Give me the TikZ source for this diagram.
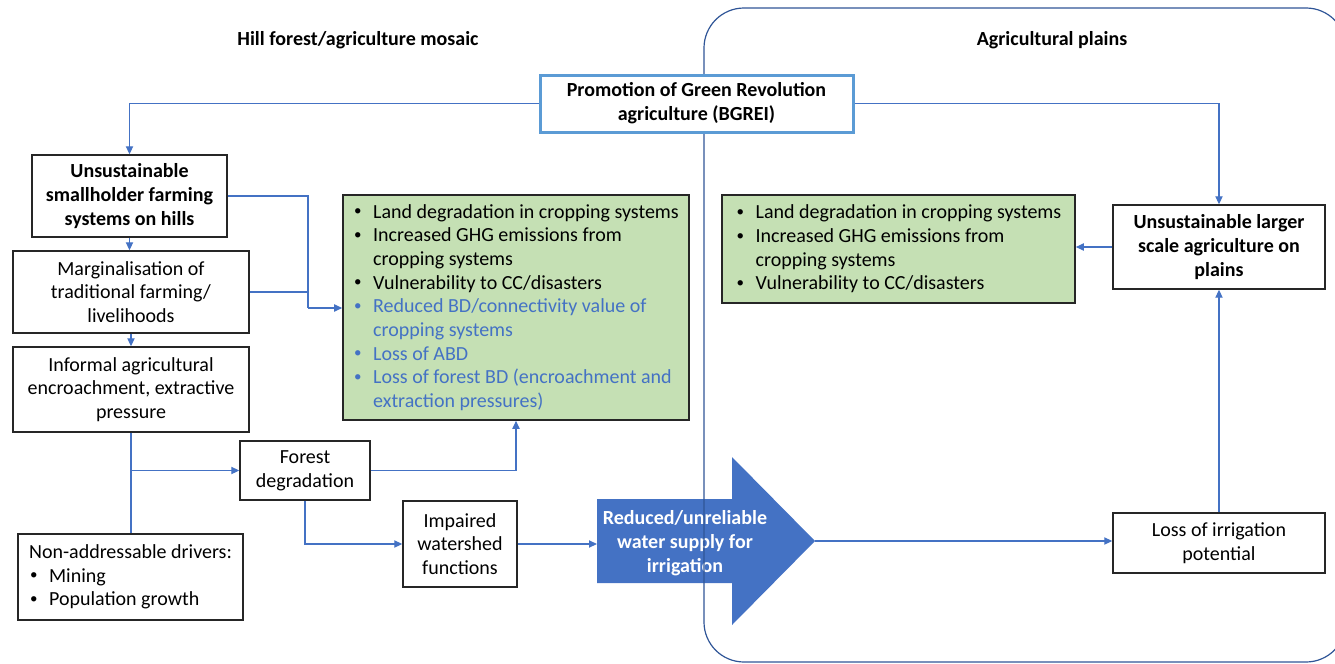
\documentclass[tikz,border=0pt]{standalone}
\usepackage{fontspec}
\setmainfont{Carlito}
\usetikzlibrary{arrows.meta}

\definecolor{lineblue}{HTML}{4472C4}
\definecolor{frameblue}{HTML}{2F5597}
\definecolor{headblue}{HTML}{5B9BD5}
\definecolor{cropgreen}{HTML}{C5E0B4}
\definecolor{boxgray}{HTML}{262626}

\newcommand{\boxfont}{\fontsize{10}{11.85}\selectfont}
\newcommand{\bul}{\makebox[10pt][l]{\hspace{0.5pt}\raisebox{0.25ex}{\fontsize{7.5}{7.5}\selectfont\textbullet}}}
\newcommand{\hang}{\hspace*{10pt}}

\begin{document}
\begin{tikzpicture}[x=0.5pt,y=-0.5pt,
    box/.style={draw=boxgray,line width=0.7pt,fill=white,align=center,
      font=\boxfont,inner sep=0pt},
    greenbox/.style={draw=boxgray,line width=0.8pt,fill=cropgreen,align=left,
      font=\boxfont,inner sep=0pt},
    headbox/.style={draw=headblue,line width=1.5pt,fill=white,align=center,
      font=\boxfont\bfseries,inner sep=0pt},
    title/.style={font=\boxfont\bfseries},
    link/.style={draw=lineblue,line width=0.6pt},
    flow/.style={link,-{Triangle[length=4pt,width=3.6pt]}}]
  \useasboundingbox (0,0) rectangle (1335,664);
  \clip (0,0) rectangle (1335,664);

  % Water supply arrow
  \fill[lineblue] (597,499) -- (732,499) -- (732,457) -- (815,541)
    -- (732,625) -- (732,583) -- (597,583) -- cycle;
  \coordinate (wtail) at (597,541);
  \coordinate (wtip) at (815,541);
  \node[font=\boxfont\bfseries,text=white,align=center] (wat) at (685,543)
    {Reduced/unreliable\\water supply for\\irrigation};

  % Plains frame
  \draw[frameblue,line width=0.6pt,rounded corners=20pt] (704,8) rectangle (1346,662);

  % Titles
  \node[title] (hilltitle) at (358,40) {Hill forest/agriculture mosaic};
  \node[title] (plaintitle) at (1052,40) {Agricultural plains};

  % Policy box
  \node[headbox,minimum width=156.5pt,minimum height=28.5pt] (bgrei) at (696.5,103.5)
    {Promotion of Green Revolution\\agriculture (BGREI)};

  % Hill side
  \node[box,font=\boxfont\bfseries,minimum width=97.5pt,minimum height=41pt] (smh) at (129.5,196)
    {Unsustainable\\smallholder farming\\systems on hills};
  \node[box,minimum width=118pt,minimum height=41pt] (marg) at (131,292)
    {Marginalisation of\\traditional farming/\\livelihoods};
  \node[box,minimum width=118pt,minimum height=42.5pt] (inf) at (131,389.5)
    {Informal agricultural\\encroachment, extractive\\pressure};
  \node[box,minimum width=65pt,minimum height=29.5pt] (frst) at (305,470.5)
    {Forest\\degradation};
  \node[box,align=left,minimum width=112.5pt,minimum height=43pt] (nad) at (130.5,577)
    {Non-addressable drivers:\\\bul Mining\\\bul Population growth};
  \node[box,minimum width=57pt,minimum height=43pt] (imp) at (460,544)
    {Impaired\\watershed\\functions};
  \node[greenbox,minimum width=173pt,minimum height=112.5pt] (hillfx) at (516,307.5)
    {\bul Land degradation in cropping systems\\
     \bul Increased GHG emissions from\\
     \hang cropping systems\\
     \bul Vulnerability to CC/disasters\\
     \color{lineblue}\bul Reduced BD/connectivity value of\\
     \color{lineblue}\hang cropping systems\\
     \color{lineblue}\bul Loss of ABD\\
     \color{lineblue}\bul Loss of forest BD (encroachment and\\
     \color{lineblue}\hang extraction pressures)};

  % Plains side
  \node[greenbox,minimum width=176.5pt,minimum height=54pt] (plainfx) at (898.5,249)
    {\bul Land degradation in cropping systems\\
     \bul Increased GHG emissions from\\
     \hang cropping systems\\
     \bul Vulnerability to CC/disasters};
  \node[box,font=\boxfont\bfseries,minimum width=106pt,minimum height=42pt] (lsa) at (1219,247)
    {Unsustainable larger\\scale agriculture on\\plains};
  \node[box,minimum width=106pt,minimum height=30pt] (lip) at (1219,543)
    {Loss of irrigation\\potential};

  % Connectors
  \coordinate (jn) at (308,308);
  \draw[flow] (bgrei.west) -| (smh.north);
  \draw[flow] (bgrei.east) -| (lsa.north);
  \draw[flow] (smh.south) -- (smh.south |- marg.north);
  \draw[flow] (marg.south) -- (marg.south |- inf.north);
  \draw[link] (smh.east) -| (jn);
  \draw[link] (marg.east) -| (jn);
  \draw[flow] (jn) -- (jn -| hillfx.west);
  \draw[link] (inf.south) -- (inf.south |- nad.north);
  \draw[flow] (inf.south |- frst.west) -- (frst.west);
  \draw[flow] (frst.east) -| (hillfx.south);
  \draw[flow] (frst.south) |- (imp.west);
  \draw[flow] (imp.east) -- (imp.east -| wtail);
  \draw[flow] (wtip) -- (wtip -| lip.west);
  \draw[flow] (lip.north) -- (lsa.south);
  \draw[flow] (lsa.west) -- (lsa.west -| plainfx.east);
\end{tikzpicture}
\end{document}
